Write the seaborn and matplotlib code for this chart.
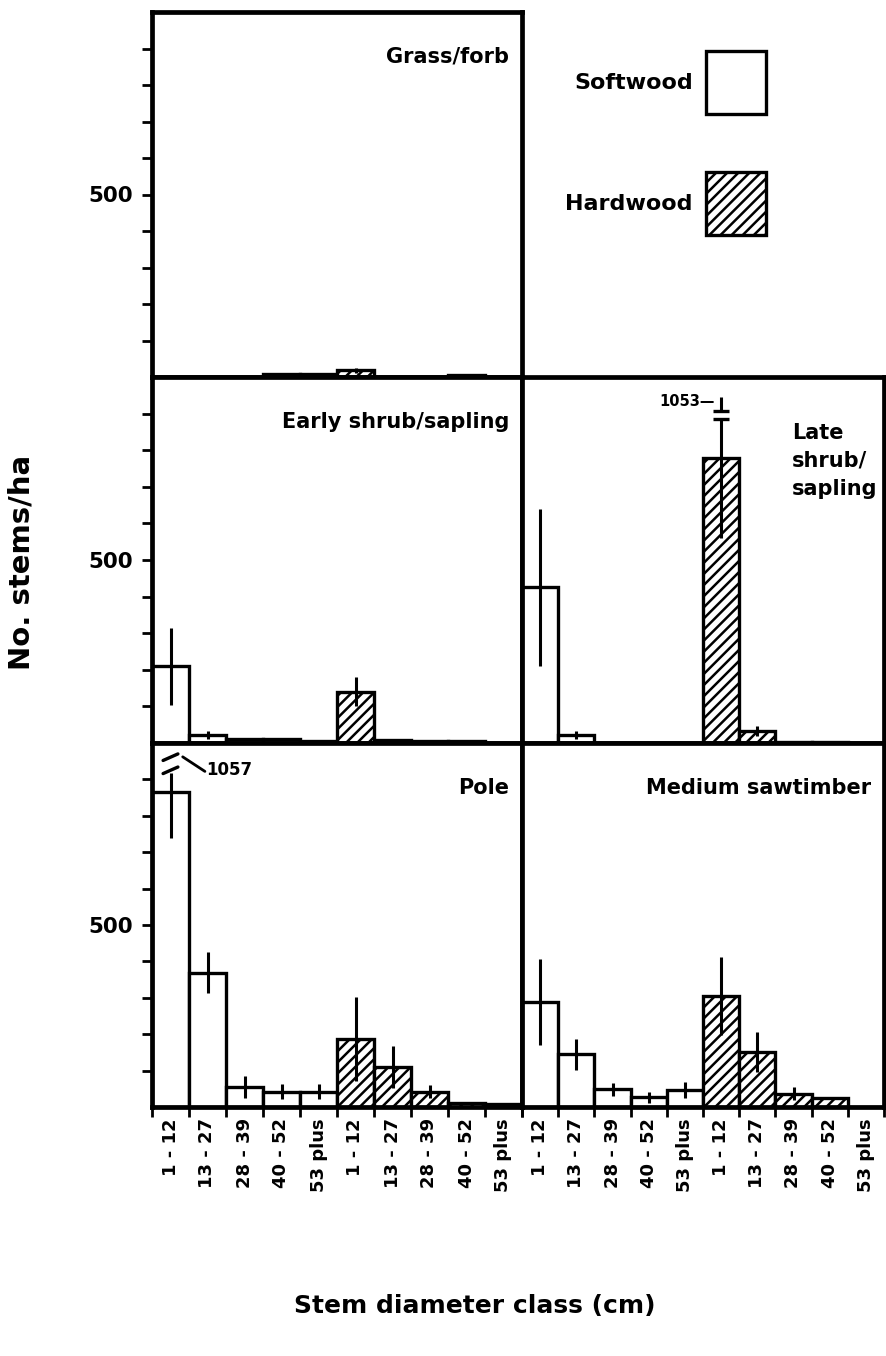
import numpy as np
import pandas as pd
import matplotlib
matplotlib.use('Agg')
import matplotlib.pyplot as plt
from matplotlib.patches import Patch
import seaborn as sns

# diameter classes (cm), softwood block then hardwood block on each panel
classes = ['1 - 12', '13 - 27', '28 - 39', '40 - 52', '53 plus']

# mean stems/ha and error
grass_soft = [0, 0, 0, 8, 8]
grass_soft_se = [0, 0, 0, 0, 0]
grass_hard = [18, 0, 0, 6, 0]
grass_hard_se = [8, 0, 0, 0, 0]

early_soft = [210, 22, 10, 10, 5]
early_soft_se = [105, 10, 0, 0, 0]
early_hard = [140, 8, 6, 5, 0]
early_hard_se = [40, 0, 0, 0, 0]

late_soft = [425, 22, 0, 0, 0]
late_soft_se = [215, 12, 0, 0, 0]
late_hard = [780, 33, 4, 4, 0]
late_hard_se = [220, 14, 0, 0, 0]
late_hard_top = 1053          # upper end of the broken error bar

pole_soft = [865, 369, 56, 42, 42]
pole_soft_se = [126, 57, 30, 20, 20]
pole_soft_top = 1057          # upper end of the broken error bar
pole_hard = [187, 110, 42, 10, 8]
pole_hard_se = [115, 57, 18, 0, 0]

saw_soft = [289, 145, 49, 27, 47]
saw_soft_se = [118, 43, 18, 15, 22]
saw_hard = [305, 151, 36, 26, 0]
saw_hard_se = [108, 55, 18, 0, 0]

sns.set_style('ticks')
plt.rcParams['font.family'] = ['DejaVu Sans']
plt.rcParams['font.weight'] = 'bold'
plt.rcParams['text.color'] = 'black'
plt.rcParams['axes.edgecolor'] = 'black'
plt.rcParams['xtick.color'] = 'black'
plt.rcParams['ytick.color'] = 'black'
plt.rcParams['hatch.linewidth'] = 1.8
plt.rcParams['hatch.color'] = 'black'

W, H = 886, 1356
fig = plt.figure(figsize=(W / 100, H / 100), dpi=100)


def add_ax(x0, x1, y0, y1):
    return fig.add_axes([x0 / W, 1 - y1 / H, (x1 - x0) / W, (y1 - y0) / H])


def draw_panel(ax, soft, hard, soft_se, hard_se, title, left, bottom):
    df = pd.DataFrame({'key': list(range(10)),
                       'stems': soft + hard})
    sns.barplot(data=df, x='key', y='stems', order=list(range(10)),
                color='white', saturation=1, edgecolor='black',
                linewidth=2.4, width=1.0, errorbar=None, ax=ax)
    for i, p in enumerate(ax.patches):
        if i >= 5:
            p.set_hatch('///')
    vals = np.array(soft + hard, dtype=float)
    errs = np.array(soft_se + hard_se, dtype=float)
    keep = errs > 0
    xs = np.arange(10)[keep]
    ax.vlines(xs, vals[keep] - errs[keep], vals[keep] + errs[keep],
              color='black', linewidth=2.2, zorder=5)

    ax.set_xlim(-0.5, 9.5)
    ax.set_ylim(0, 1000)
    ax.set_xlabel('')
    ax.set_ylabel('')
    ax.set_xticks(range(10))
    ax.set_xticks(np.arange(-0.5, 10, 1), minor=True)
    ax.tick_params(axis='x', which='major', length=0, pad=8)
    ax.tick_params(axis='x', which='minor', length=7, width=2, direction='out')
    if bottom:
        ax.set_xticklabels(classes + classes, rotation=90, fontsize=13,
                           fontweight='bold', va='top', ha='center')
    else:
        ax.set_xticklabels([])
    ax.set_yticks([500])
    ax.set_yticks(range(100, 1000, 100), minor=True)
    if left:
        ax.tick_params(axis='y', which='both', length=7, width=2,
                       direction='out', labelsize=15.5, pad=7)
    else:
        ax.tick_params(axis='y', which='both', left=False, labelleft=False)
    for s in ax.spines.values():
        s.set_linewidth(3.4)
        s.set_visible(True)
        s.set_zorder(6)
    if title is not None:
        ax.text(0.965, 0.877, title, transform=ax.transAxes, ha='right',
                va='center', fontsize=15, fontweight='bold')


ax_grass = add_ax(152, 522, 12, 377)
ax_early = add_ax(152, 522, 377, 743)
ax_late = add_ax(522, 884, 377, 743)
ax_pole = add_ax(152, 522, 743, 1107)
ax_saw = add_ax(522, 884, 743, 1107)

draw_panel(ax_grass, grass_soft, grass_hard, grass_soft_se, grass_hard_se,
           'Grass/forb', True, False)
draw_panel(ax_early, early_soft, early_hard, early_soft_se, early_hard_se,
           'Early shrub/sapling', True, False)
draw_panel(ax_late, late_soft, late_hard, late_soft_se,
           [0] + late_hard_se[1:], None, False, False)
draw_panel(ax_pole, pole_soft, pole_hard, [0] + pole_soft_se[1:],
           pole_hard_se, 'Pole', True, True)
draw_panel(ax_saw, saw_soft, saw_hard, saw_soft_se, saw_hard_se,
           'Medium sawtimber', False, True)

ax_late.text(0.746, 0.875, 'Late\nshrub/\nsapling', transform=ax_late.transAxes,
             ha='left', va='top', fontsize=15, fontweight='bold',
             linespacing=1.5)

# broken error bar, late shrub hardwood 1-12
xb = 5
ax_late.vlines(xb, late_hard[0] - late_hard_se[0], 886, color='black',
               linewidth=2.2, zorder=5)
ax_late.hlines(886, xb - 0.22, xb + 0.22, color='black', linewidth=2.4, zorder=5)
ax_late.hlines(907, xb - 0.22, xb + 0.22, color='black', linewidth=2.4, zorder=5)
ax_late.vlines(xb, 907, 945, color='black', linewidth=2.2, zorder=5)
ax_late.text(xb - 0.18, 934, f'{late_hard_top}\u2014', ha='right', va='center',
             fontsize=10.5, fontweight='bold')

# broken error bar, pole softwood 1-12
xb = 0
ax_pole.vlines(xb, pole_soft[0] - pole_soft_se[0], 918, color='black',
               linewidth=2.2, zorder=5)
ax_pole.plot([xb - 0.2, xb + 0.2], [916, 934], color='black', linewidth=2.4,
             zorder=5)
ax_pole.plot([xb - 0.2, xb + 0.2], [952, 970], color='black', linewidth=2.4,
             zorder=5)
ax_pole.plot([0.33, 0.93], [962, 922], color='black', linewidth=2.0, zorder=5)
ax_pole.text(0.97, 925, str(pole_soft_top), ha='left', va='center',
             fontsize=12, fontweight='bold')

handles = [Patch(facecolor='white', edgecolor='black', linewidth=2.4,
                 label='Softwood'),
           Patch(facecolor='white', edgecolor='black', linewidth=2.4,
                 hatch='///', label='Hardwood')]
fig.legend(handles=handles, loc='upper right',
           bbox_to_anchor=(766 / W, 1 - 51 / H), frameon=False,
           markerfirst=False, handlelength=2.7, handleheight=4.0,
           labelspacing=2.6, handletextpad=0.6, borderpad=0,
           borderaxespad=0, prop=dict(weight='bold', size=16))

fig.text(22 / W, 1 - 562 / H, 'No. stems/ha', rotation=90, ha='center',
         va='center', fontsize=21, fontweight='bold')
fig.text(475 / W, 1 - 1306 / H, 'Stem diameter class (cm)', ha='center',
         va='center', fontsize=18, fontweight='bold')

fig.savefig('out.png', dpi=100)
